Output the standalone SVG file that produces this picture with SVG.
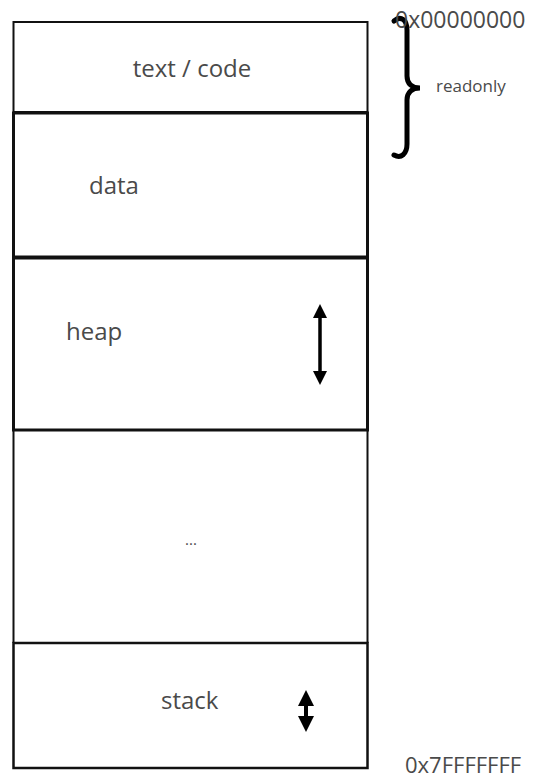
<svg xmlns="http://www.w3.org/2000/svg" width="535" height="781" viewBox="0 0 535 781">
<style>
.lbl{font-family:"Open Sans","Liberation Sans",sans-serif;fill:#4a4a4a}
.box{fill:none;stroke:#111}
</style>
<defs>
<marker id="ah" viewBox="0 0 10 10" refX="5" refY="5" markerWidth="4" markerHeight="4" orient="auto-start-reverse" markerUnits="strokeWidth">
<path d="M0 0 L10 5 L0 10 Z" fill="#000"/>
</marker>
</defs>
<rect width="535" height="781" fill="#fff"/>
<g id="text-code">
<rect class="box" x="13.5" y="22" width="354" height="90" stroke-width="2"/>
<text class="lbl" x="192" y="77" font-size="24" text-anchor="middle">text / code</text>
</g>
<g id="data">
<rect class="box" x="13.5" y="113" width="354" height="144" stroke-width="3"/>
<text class="lbl" x="89" y="194" font-size="24">data</text>
</g>
<g id="heap">
<rect class="box" x="13.5" y="258" width="354" height="172" stroke-width="3"/>
<text class="lbl" x="66" y="340" font-size="24">heap</text>
</g>
<g id="free">
<path class="box" d="M13.5 431 V643 M367.5 431 V643" stroke-width="2"/>
<text class="lbl" x="191" y="545" font-size="15" text-anchor="middle">...</text>
</g>
<g id="stack">
<rect class="box" x="13.5" y="643" width="354" height="125" stroke-width="2.5"/>
<text class="lbl" x="161" y="709" font-size="24">stack</text>
</g>
<g id="connectors">
<line x1="320" y1="311" x2="320" y2="378" stroke="#000" stroke-width="3.5" marker-start="url(#ah)" marker-end="url(#ah)"/>
<line x1="306" y1="698" x2="306" y2="724" stroke="#000" stroke-width="4" marker-start="url(#ah)" marker-end="url(#ah)"/>
</g>
<g id="readonly">
<path d="M394 21 C401 15 407 20 407 30 L407 76 C407 84 412 88 420 88 C412 88 407 92 407 100 L407 144 C407 154 401 159 394 155" fill="none" stroke="#000" stroke-width="5" stroke-linecap="round"/>
<text class="lbl" x="436" y="92" font-size="17">readonly</text>
</g>
<text class="lbl" x="395" y="28" font-size="23">0x00000000</text>
<text class="lbl" x="405" y="773" font-size="22">0x7FFFFFFF</text>
</svg>
